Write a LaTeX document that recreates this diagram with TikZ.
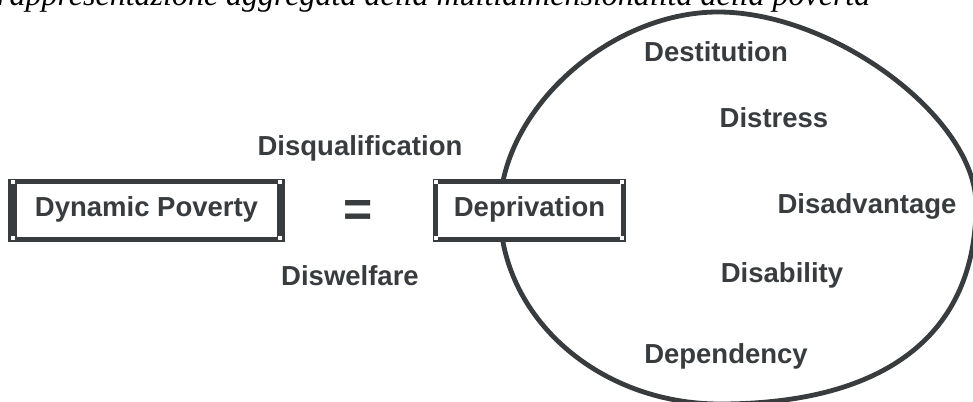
\documentclass[tikz,border=0pt]{standalone}
\usepackage{fontspec}
\setmainfont{Liberation Serif}
\newfontfamily\arialfont{Liberation Sans}
\definecolor{ink}{RGB}{56,60,63}
\begin{document}
\begin{tikzpicture}[x=1pt,y=-1pt,
  lbl/.style={anchor=base, text=ink, inner sep=0pt, font=\arialfont\bfseries\fontsize{27.5pt}{30pt}\selectfont},
  framebox/.style={draw=ink, fill=white, line width=5pt, inner sep=0pt, outer sep=0pt, text=ink,
     text height=19.8pt, text depth=8pt, font=\arialfont\bfseries\fontsize{27.5pt}{30pt}\selectfont},
  handle/.style={fill=white, minimum size=3.5pt, inner sep=0pt}
]
\useasboundingbox (0,0) rectangle (973,401);

% title (partially cut off at the top)
\node[anchor=base west, inner sep=0pt, font=\itshape\fontsize{32pt}{34pt}\selectfont] (title) at (-3,5.5)
  {rappresentazione aggregata della multidimensionalità della povertà};

% big closed curve
\coordinate (L) at (500,210);
\coordinate (T) at (718,12);
\coordinate (R) at (976,205);
\coordinate (B) at (720,404);
\draw[ink, line width=4.8pt]
  (L) .. controls (500,111) and (609,12) .. (T)
      .. controls (834,12) and (976,118) .. (R)
      .. controls (976,334) and (886,404) .. (B)
      .. controls (598.5,404) and (500,317) .. cycle;

% boxes
\node[framebox, minimum width=272pt, minimum height=58pt] (dp) at (146.5,210.5) {Dynamic Poverty};
\fill[ink] (8,179) rectangle (17,242);
\fill[ink] (277,179) rectangle (285,242);
\node[framebox, minimum width=188pt, minimum height=58pt] (dep) at (529.5,210.5) {Deprivation};

% corner handles
\foreach \p in {(13,182),(280,182),(13,238),(280,238),(436,182),(622,182),(436,238),(622,238)}
  \node[handle] at \p {};

% equals sign
\node[anchor=base, text=ink, inner sep=0pt, font=\arialfont\bfseries\fontsize{50pt}{52pt}\selectfont] (eq) at (358,226) {=};

% labels
\node[lbl] (disq) at (360,155) {Disqualification};
\node[lbl] (disw) at (350,285) {Diswelfare};
\node[lbl] (dest) at (716,62) {Destitution};
\node[lbl] (distr) at (774,128) {Distress};
\node[lbl] (disadv) at (867,213) {Disadvantage};
\node[lbl] (disab) at (782,282) {Disability};
\node[lbl] (depend) at (726,363) {Dependency};
\end{tikzpicture}
\end{document}
